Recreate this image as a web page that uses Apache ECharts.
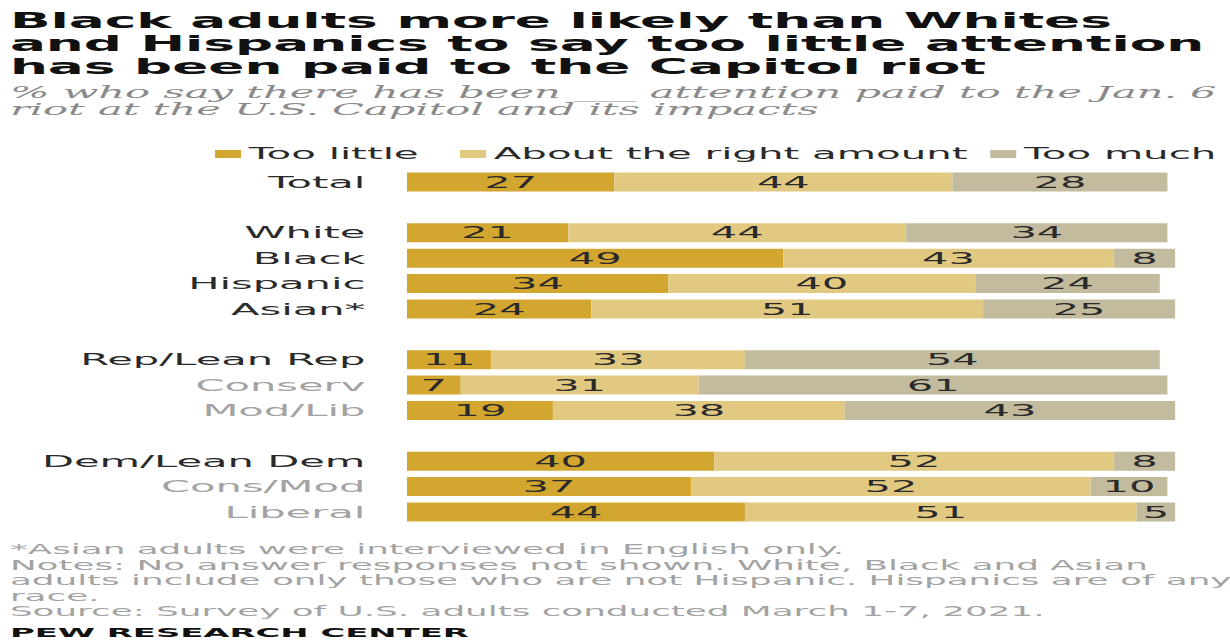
<!DOCTYPE html>
<html><head><meta charset="utf-8">
<script src="https://cdn.jsdelivr.net/npm/echarts@6/dist/echarts.min.js"></script>
<style>
html,body{margin:0;padding:0;background:#fff;overflow:hidden}
#wrap{width:1230px;height:641px;overflow:hidden;position:relative}
#c{width:473px;height:641px;transform:scaleX(2.6004);transform-origin:0 0}
</style></head>
<body><div id="wrap"><div id="c"></div></div>
<script>
const categories = ['Total', '', 'White', 'Black', 'Hispanic', 'Asian*', ' ', 'Rep/Lean Rep', 'Conserv', 'Mod/Lib', '  ', 'Dem/Lean Dem', 'Cons/Mod', 'Liberal'];
const tooLittle  = [27, null, 21, 49, 34, 24, null, 11, 7, 19, null, 40, 37, 44];
const aboutRight = [44, null, 44, 43, 40, 51, null, 33, 31, 38, null, 52, 52, 51];
const tooMuch    = [28, null, 34, 8, 24, 25, null, 54, 61, 43, null, 8, 10, 5];
const seriesNames = ['Too little', 'About the right amount', 'Too much'];
const subGroups = ['Conserv', 'Mod/Lib', 'Cons/Mod', 'Liberal'];

const titleText = 'Black adults more likely than Whites\nand Hispanics to say too little attention\nhas been paid to the Capitol riot';
const subText = '% who say there has been ___ attention paid to the Jan. 6\nriot at the U.S. Capitol and its impacts';
const noteText = '*Asian adults were interviewed in English only.\nNotes: No answer responses not shown. White, Black and Asian\nadults include only those who are not Hispanic. Hispanics are of any\nrace.\nSource: Survey of U.S. adults conducted March 1-7, 2021.';
const sourceText = 'PEW RESEARCH CENTER';

const colors = ['#d3a630', '#e2c982', '#c2bb9e'];
const chart = echarts.init(document.getElementById('c'), null, {renderer: 'svg'});
const lbl = {show: true, position: 'inside', color: '#2a2a2a', fontSize: 16, fontFamily: 'DejaVu Sans'};
const mk = (name, data, i) => ({
  name, type: 'bar', stack: 'all', data, barWidth: 19,
  itemStyle: {color: colors[i]}, label: lbl, emphasis: {disabled: true}
});
const legendLefts = [82.7, 176.9, 380.8];
chart.setOption({
  animation: false,
  title: [
    {text: titleText, left: 3.8, top: 9.5, padding: 0,
     textStyle: {fontFamily: 'DejaVu Sans', fontWeight: 'bold', fontSize: 20.5, lineHeight: 23, color: '#111'}},
    {text: subText, left: 3.8, top: 84, padding: 0,
     textStyle: {fontFamily: 'DejaVu Serif', fontStyle: 'italic', fontWeight: 'normal', fontSize: 16, lineHeight: 17, color: '#8a8a8a'}},
    {text: noteText, left: 3.8, top: 541.5, padding: 0,
     textStyle: {fontFamily: 'DejaVu Sans', fontWeight: 'normal', fontSize: 13.75, lineHeight: 15.5, color: '#a3a3a3'}},
    {text: sourceText, left: 3.8, top: 624.5, padding: 0,
     textStyle: {fontFamily: 'DejaVu Sans', fontWeight: 'bold', fontSize: 13, lineHeight: 16, color: '#111'}}
  ],
  legend: seriesNames.map((n, i) => ({
    data: [n], left: legendLefts[i], top: 146, padding: 0,
    itemWidth: 10, itemHeight: 8, icon: 'rect', selectedMode: false,
    textStyle: {fontFamily: 'DejaVu Sans', fontSize: 15.5, color: '#2a2a2a', padding: [0, 0, 0, -2]}
  })),
  grid: {left: 156.5, width: 295.4, top: 169.3, height: 355.4, containLabel: false},
  xAxis: {type: 'value', min: 0, max: 100, show: false},
  yAxis: {
    type: 'category', data: categories, inverse: true,
    axisLine: {show: false}, axisTick: {show: false}, splitLine: {show: false},
    axisLabel: {
      margin: 16, fontFamily: 'DejaVu Sans', fontSize: 16,
      color: (v) => subGroups.includes(v) ? '#a3a3a3' : '#2a2a2a'
    }
  },
  series: [mk(seriesNames[0], tooLittle, 0), mk(seriesNames[1], aboutRight, 1), mk(seriesNames[2], tooMuch, 2)]
});
</script></body></html>
